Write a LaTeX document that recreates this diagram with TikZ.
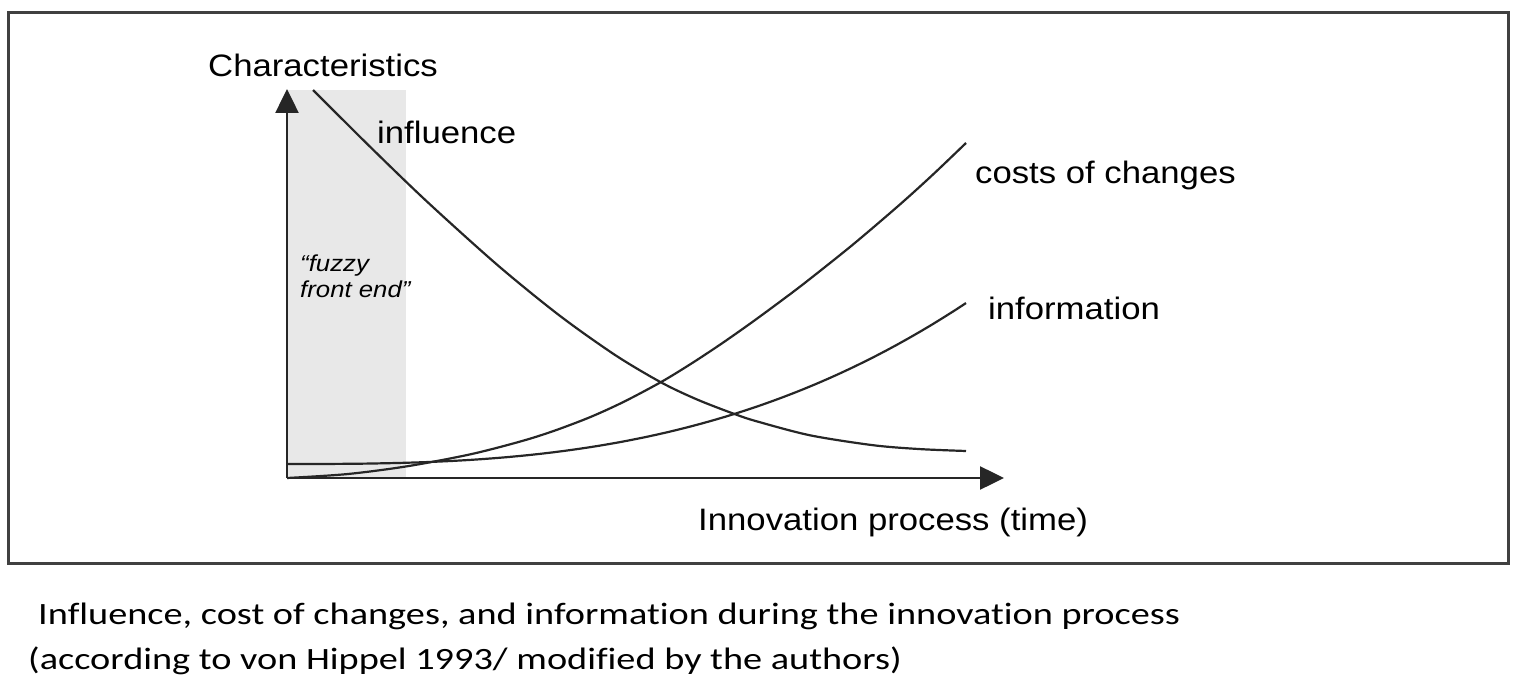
\documentclass[tikz,border=0pt]{standalone}
\usepackage{fontspec}
\setmainfont{Liberation Sans}
\newfontfamily\labelfont[FakeStretch=1.12]{Liberation Sans}
\newfontfamily\captionfont[FakeStretch=1.235,Ligatures=NoCommon]{Carlito}
\usepackage{tikz}
\usetikzlibrary{arrows.meta}
\tikzstyle{axisline} = [line width=2.5pt,draw=black!85,-{Triangle[length=24pt,width=23pt]}]
\tikzstyle{curveline} = [line width=2.2pt,draw=black!85]
\tikzstyle{curvetext} = [inner sep=0pt,anchor=base west,font=\labelfont\fontsize{31}{37}\selectfont]
\tikzstyle{fuzzytext} = [inner sep=0pt,anchor=base west,font=\labelfont\itshape\fontsize{23}{26}\selectfont]
\tikzstyle{captiontext} = [inner sep=0pt,anchor=base west,font=\captionfont\fontsize{31}{45}\selectfont]

\begin{document}
\begin{tikzpicture}[x=1pt,y=-1pt]
	\useasboundingbox (0,0) rectangle (1520,692);
	\draw[line width=3pt,draw=black!75] (8,13) rectangle (1508,563);
	\fill[black!9] (287,90) rectangle (406,478);
	\coordinate (origin) at (287,478);
	\coordinate (ytip) at (287,89);
	\coordinate (xtip) at (1004,478);
	% curves
	\draw[curveline] plot[smooth] coordinates {(313,90) (370,146.7) (427,201.6) (498,265.5) (560,315.9) (616,355.6) (662,382.9) (698,399.9) (735,414.2) (757,421.4) (810,435.3) (873,445.2) (920,449.1) (966,451)};
	\draw[curveline] plot[smooth] coordinates {(287,478) (347,474.1) (407,466.3) (470,454.4) (520,441.6) (553,431.2) (590,417.2) (624,401.7) (662,381.5) (691,363.8) (720,344.7) (750,323.7) (780,301.7) (806,282) (853,244.5) (900,204.4) (933,174.5) (966,143)};
	\draw[curveline] (287,464) -- plot[domain=1:679,samples=60] ({287+\x},{464-161*(\x/679)^2.8});
	% axes
	\draw[axisline] (origin) -- (ytip);
	\draw[axisline] (origin) -- (xtip);
	\node[curvetext] (chars) at (208,77) {Characteristics};
	\node[curvetext] (infl) at (377,144) {influence};
	\node[curvetext] (costs) at (975,184) {costs of changes};
	\node[curvetext] (info) at (988,320) {information};
	\node[curvetext] (time) at (698,530) {Innovation process (time)};
	\node[fuzzytext] (fuzzy a) at (300,272) {“fuzzy};
	\node[fuzzytext] (fuzzy b) at (300,298) {front end”};
	\node[captiontext] (cap a) at (38,624) {Influence, cost of changes, and information during the innovation process};
	\node[captiontext] (cap b) at (28,669) {(according to von Hippel 1993/ modified by the authors)};
\end{tikzpicture}
\end{document}
